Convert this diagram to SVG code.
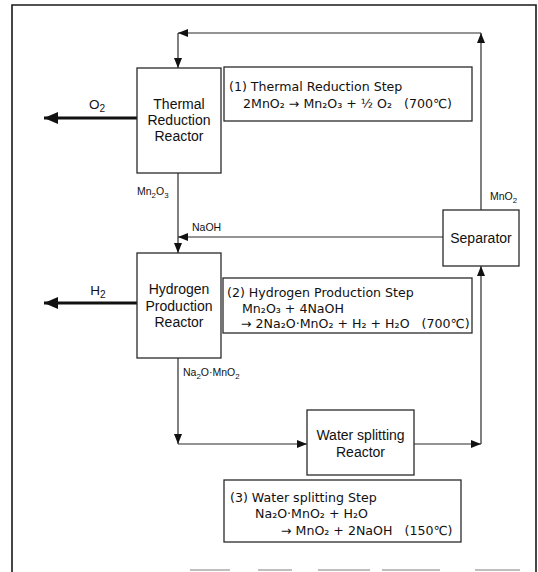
<svg xmlns="http://www.w3.org/2000/svg" width="538" height="572" viewBox="0 0 538 572">
<defs>
<style>
.frame{fill:none;stroke:#1a1a1a;stroke-width:1.6}
.box{fill:#fff;stroke:#2a2a2a;stroke-width:1.3}
.eqbox{fill:#fff;stroke:#2a2a2a;stroke-width:1.3}
.ln{fill:none;stroke:#2a2a2a;stroke-width:1.2}
.thick{fill:none;stroke:#111;stroke-width:3}
.node{font-family:"Liberation Sans",Arial,sans-serif;font-size:14px;fill:#111;text-anchor:middle}
.lbl{font-family:"Liberation Sans",Arial,sans-serif;font-size:10.5px;fill:#111}
.big{font-family:"Liberation Sans",Arial,sans-serif;font-size:13.5px;fill:#111;text-anchor:middle}
.s{font-size:75%;baseline-shift:-2.5px}
.eq{font-family:"DejaVu Sans",Verdana,sans-serif;font-size:12.6px;fill:#111;white-space:pre}
</style>
<marker id="ah" viewBox="0 0 10 8" refX="10" refY="4" markerWidth="10" markerHeight="8" markerUnits="userSpaceOnUse" orient="auto">
<path d="M0,0 L10,4 L0,8 Z" fill="#111"/>
</marker>
<marker id="ahb" viewBox="0 0 14 12" refX="14" refY="6" markerWidth="14" markerHeight="12" markerUnits="userSpaceOnUse" orient="auto">
<path d="M0,0 L14,6 L0,12 Z" fill="#111"/>
</marker>
</defs>

<path class="frame" d="M12,572 V5 H536 V572"/>
<path d="M190,570 H230 M258,570 H292 M318,570 H370 M382,570 H440 M475,570 H520" stroke="#aaa" stroke-width="1.5" fill="none"/>

<g id="connectors">
<line class="ln" x1="481" y1="210" x2="481" y2="33" marker-end="url(#ah)"/>
<line class="ln" x1="481" y1="33" x2="178" y2="33" marker-end="url(#ah)"/>
<line class="ln" x1="178" y1="33" x2="178" y2="68" marker-end="url(#ah)"/>
<line class="ln" x1="178" y1="173" x2="178" y2="253" marker-end="url(#ah)"/>
<line class="ln" x1="443" y1="237" x2="178" y2="237" marker-end="url(#ah)"/>
<line class="ln" x1="178" y1="358" x2="178" y2="444" marker-end="url(#ah)"/>
<line class="ln" x1="178" y1="444" x2="307" y2="444" marker-end="url(#ah)"/>
<line class="ln" x1="414" y1="444" x2="481" y2="444" marker-end="url(#ah)"/>
<line class="ln" x1="481" y1="444" x2="481" y2="266" marker-end="url(#ah)"/>
<line class="thick" x1="137" y1="118" x2="44" y2="118" marker-end="url(#ahb)"/>
<line class="thick" x1="137" y1="303" x2="44" y2="303" marker-end="url(#ahb)"/>
<text class="big" x="97" y="109">O<tspan class="s">2</tspan></text>
<text class="big" x="98" y="295">H<tspan class="s">2</tspan></text>
<text class="lbl" x="137" y="195">Mn<tspan class="s">2</tspan>O<tspan class="s">3</tspan></text>
<text class="lbl" x="192" y="231">NaOH</text>
<text class="lbl" x="490" y="200">MnO<tspan class="s">2</tspan></text>
<text class="lbl" x="183" y="376">Na<tspan class="s">2</tspan>O·MnO<tspan class="s">2</tspan></text>
</g>

<g id="thermal-reactor">
<rect class="box" x="137" y="68" width="84" height="105"/>
<text class="node" x="179" y="109">Thermal</text>
<text class="node" x="179" y="125">Reduction</text>
<text class="node" x="179" y="141">Reactor</text>
</g>

<g id="hydrogen-reactor">
<rect class="box" x="137" y="253" width="84" height="105"/>
<text class="node" x="179" y="294">Hydrogen</text>
<text class="node" x="179" y="311">Production</text>
<text class="node" x="179" y="327">Reactor</text>
</g>

<g id="separator">
<rect class="box" x="443" y="210" width="76" height="56"/>
<text class="node" x="481" y="243">Separator</text>
</g>

<g id="water-reactor">
<rect class="box" x="307" y="410" width="107" height="65"/>
<text class="node" x="360.5" y="440">Water splitting</text>
<text class="node" x="360.5" y="457">Reactor</text>
</g>

<g id="step1">
<rect class="eqbox" x="224" y="67" width="248" height="54"/>
<text class="eq" x="229" y="91">(1) Thermal Reduction Step</text>
<text class="eq" x="243" y="108">2MnO₂ → Mn₂O₃ + ½ O₂   (700℃)</text>
</g>

<g id="step2">
<rect class="eqbox" x="223" y="278" width="249" height="55"/>
<text class="eq" x="227" y="297">(2) Hydrogen Production Step</text>
<text class="eq" x="242" y="313">Mn₂O₃ + 4NaOH</text>
<text class="eq" x="241" y="328">→ 2Na₂O·MnO₂ + H₂ + H₂O   (700℃)</text>
</g>

<g id="step3">
<rect class="eqbox" x="224" y="480" width="237" height="62"/>
<text class="eq" x="230" y="502">(3) Water splitting Step</text>
<text class="eq" x="255" y="518">Na₂O·MnO₂ + H₂O</text>
<text class="eq" x="281" y="535">→ MnO₂ + 2NaOH   (150℃)</text>
</g>
</svg>
